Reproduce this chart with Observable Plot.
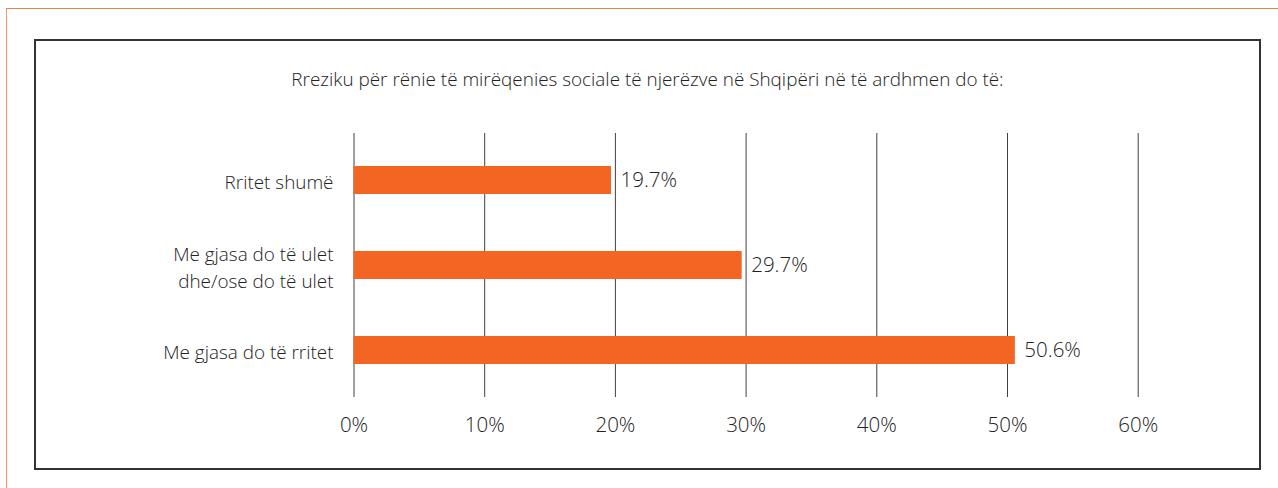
<!DOCTYPE html>
<html>
<head>
<meta charset="utf-8">
<script src="https://cdn.jsdelivr.net/npm/d3@7"></script>
<script src="https://cdn.jsdelivr.net/npm/@observablehq/plot@0.6"></script>
<style>
  html, body { margin: 0; padding: 0; background: #fff; }
  #wrap { position: relative; width: 1278px; height: 488px; overflow: hidden; font-family: "Open Sans", sans-serif; font-weight: 300; }
  #wrap svg { position: absolute; left: 0; top: 0; }
  .orange { position: absolute; left: 6px; top: 8px; right: -2px; bottom: -2px;
            border-top: 1.5px solid #F07E48; border-left: 1.5px solid #F5936A; }
  .box { position: absolute; left: 34px; top: 39px; width: 1227px; height: 431px;
         box-sizing: border-box; border: 2px solid #333; }
  .title { position: absolute; left: 35px; width: 1225px; top: 67px; line-height: 24px;
           text-align: center; font-size: 18.9px; color: #222; }
</style>
</head>
<body>
<div id="wrap">
  <div class="orange"></div>
  <div class="box"></div>
  <div class="title" id="title"></div>
</div>
<script>
const title = "Rreziku për rënie të mirëqenies sociale të njerëzve në Shqipëri në të ardhmen do të:";
const categories = ["Rritet shumë", "Me gjasa do të ulet\ndhe/ose do të ulet", "Me gjasa do të rritet"];
const values = [19.7, 29.7, 50.6];
const xTicks = [0, 10, 20, 30, 40, 50, 60];

const data = categories.map((c, i) => ({category: c, value: values[i]}));

document.getElementById("title").textContent = title;

const chart = Plot.plot({
  width: 1278,
  height: 488,
  marginLeft: 353.5,
  marginRight: 140.3,
  marginTop: 133,
  marginBottom: 91,
  style: {fontFamily: "'Open Sans', sans-serif", fontSize: "19px", fontWeight: 300, color: "#222", background: "transparent", overflow: "visible"},
  x: {domain: [0, 60], label: null},
  y: {domain: categories, paddingInner: 0.674, paddingOuter: 0.372, label: null},
  marks: [
    Plot.gridX(xTicks, {stroke: "#404040", strokeOpacity: 1, strokeWidth: 1}),
    Plot.barX(data, {x: "value", y: "category", fill: "#F26522"}),
    Plot.text(data, {x: "value", y: "category", text: d => d.value.toFixed(1) + "%", dx: 9, textAnchor: "start", fontSize: 20.5, fontWeight: 300, fill: "#222"}),
    Plot.axisX(xTicks, {tickSize: 0, tickPadding: 20, fontSize: 20.5, fontWeight: 300, tickFormat: d => d + "%", label: null, fill: "#222"}),
    Plot.axisY({tickSize: 0, tickPadding: 20.5, fontSize: 18.9, fontWeight: 300, lineHeight: 1.47, label: null, fill: "#222"})
  ]
});
document.getElementById("wrap").prepend(chart);
</script>
</body>
</html>
